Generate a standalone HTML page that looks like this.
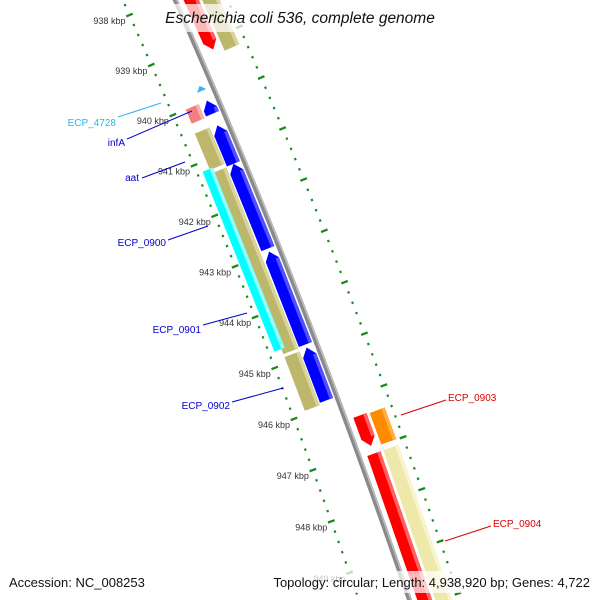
<!DOCTYPE html>
<html><head><meta charset="utf-8"><style>
html,body{margin:0;padding:0;background:#fff;width:600px;height:600px;overflow:hidden;}
svg{display:block;font-family:"Liberation Sans","DejaVu Sans",sans-serif;overflow:hidden;}
</style></head><body>
<svg id="map" width="600" height="600" viewBox="0 0 600 600" xmlns="http://www.w3.org/2000/svg">
<g id="rulers"></g>
<g id="backbone"></g>
<g id="features"></g>
<g id="labels"></g>
<rect x="162" y="4" width="276" height="28" fill="#fff" fill-opacity="0.72"/>
<text x="300" y="23" text-anchor="middle" font-size="15.5" font-style="italic" fill="#111">Escherichia coli 536, complete genome</text>
<rect x="4" y="571" width="140" height="22" fill="#fff" fill-opacity="0.72"/>
<text x="9" y="587" font-size="13" fill="#111">Accession: NC_008253</text>
<rect x="257" y="571" width="338" height="22" fill="#fff" fill-opacity="0.72"/>
<text x="590" y="587" text-anchor="end" font-size="13" fill="#111">Topology: circular; Length: 4,938,920 bp; Genes: 4,722</text>
</svg>
<script>
// ---- data ----
const tickKbp = [936,937,938,939,940,941,942,943,944,945,946,947,948,949,950];
const tickLabels = ["936 kbp","937 kbp","938 kbp","939 kbp","940 kbp","941 kbp","942 kbp","943 kbp","944 kbp","945 kbp","946 kbp","947 kbp","948 kbp","949 kbp","950 kbp"];
const featNames  = ["red-top","khaki-top","red-small","orange","red-long","yellow-long","ecp4728","infA","aat","ecp0900","ecp0901","ecp0902","pink","khaki-1","khaki-2","khaki-3","cyan"];
const featStart  = [936.0, 936.0, 946.36, 946.38, 947.10, 947.10, 939.70, 940.00, 940.49, 941.25, 942.98, 944.86, 940.00, 940.47, 941.26, 944.88, 941.17];
const featEnd    = [939.19, 939.29, 946.95, 946.99, 951.0, 951.0, 939.80, 940.26, 941.25, 942.92, 944.80, 945.89, 940.28, 941.19, 944.82, 945.93, 944.72];
const featStrand = [1, 0, 1, 0, 0, 0, -1, -1, -1, -1, -1, -1, 0, 0, 0, 0, 0];
const featTrack  = [15, 33, 15, 33, 15, 33, -12, -11, -11, -11, -11, -11, -27, -27, -27, -27, -37];
const featWidth  = [14, 16, 14, 16, 14, 16, 10, 14, 14, 14, 14, 14, 14, 16, 16, 16, 11];
const featColor  = ["#ff0000","#bdb76b","#ff0000","#ff8c00","#ff0000","#eee8aa","#3ab4f0","#0000ff","#0000ff","#0000ff","#0000ff","#0000ff","#f08080","#bdb76b","#bdb76b","#bdb76b","#00ffff"];
const featLight  = ["#ff6060","#d8d49a","#ff6060","#ffb040","#ff6060","#f8f4cc","#7fd0ff","#5050ff","#5050ff","#5050ff","#5050ff","#5050ff","#f8b0b0","#d8d49a","#d8d49a","#d8d49a","#90ffff"];

// ---- geometry ----
const CX=-6544, CY=2969, R=7346;
const A0=-23.02, APK=0.428;
function P(r,k){const a=(A0+APK*(k-940))*Math.PI/180;return [CX+r*Math.cos(a),CY+r*Math.sin(a)];}
const NS="http://www.w3.org/2000/svg";
function mk(tag,parent){const e=document.createElementNS(NS,tag);parent.appendChild(e);return e;}
const pts=a=>a.map(p=>p[0].toFixed(2)+","+p[1].toFixed(2)).join(" ");

// backbone
const bb=document.getElementById('backbone');
function arcPath(r,k1,k2){let d="";for(let k=k1;k<=k2+1e-9;k+=0.25){const p=P(r,k);d+=(d?"L":"M")+p[0].toFixed(2)+","+p[1].toFixed(2);}return d;}
const b1=mk('path',bb);


b1.setAttribute('d',arcPath(R,935,951));b1.setAttribute('stroke','#8a8a8a');b1.setAttribute('stroke-width','5');b1.setAttribute('fill','none');
const b2=mk('path',bb);


b2.setAttribute('d',arcPath(R+1.5,935,951));b2.setAttribute('stroke','#bdbdbd');b2.setAttribute('stroke-width','1.5');b2.setAttribute('fill','none');

// rulers
const rg=document.getElementById('rulers');
[-48,48].forEach(off=>{
  for(let i=0;i<=75;i++){
    const k=936+i*0.2;
    const major=(i%5===0);
    const len=major?7:2.2;
    const a=P(R+off-len/2,k), b=P(R+off+len/2,k);
    const t=mk('line',rg);
    
    
    t.setAttribute('x1',a[0]);t.setAttribute('y1',a[1]);t.setAttribute('x2',b[0]);t.setAttribute('y2',b[1]);
    t.setAttribute('stroke','#1a8a1a');t.setAttribute('stroke-width','2.3');
  }
});
tickKbp.forEach((k,i)=>{
  const p=P(R-48,k);
  const t=mk('text',rg);
  
  
  t.setAttribute('x',p[0]-4);t.setAttribute('y',p[1]+9);
  t.setAttribute('text-anchor','end');t.setAttribute('font-size','9');t.setAttribute('fill','#333');
  t.textContent=tickLabels[i];
});

// features
const fg=document.getElementById('features');
const AL=0.16;
featNames.forEach((n,i)=>{
  const r=R+featTrack[i], w=featWidth[i];
  const s=featStart[i], e=featEnd[i], st=featStrand[i];
  const ri=r-w/2, ro=r+w/2;
  function poly(ri,ro){
    let ptsA;
    if(st===1){const kb=Math.max(s,e-AL);ptsA=[P(ri,s),P(ro,s),P(ro,kb),P(r,e),P(ri,kb)];}
    else if(st===-1){const kb=Math.min(e,s+AL);ptsA=[P(r,s),P(ro,kb),P(ro,e),P(ri,e),P(ri,kb)];}
    else ptsA=[P(ri,s),P(ro,s),P(ro,e),P(ri,e)];
    return ptsA;
  }
  const g=mk('g',fg);
  
  
  const p1=mk('polygon',g);
  
  
  p1.setAttribute('points',pts(poly(ri,ro)));p1.setAttribute('fill',featColor[i]);
  if(w>10){
    const hl=[P(ro-3.5,s+(st===-1?AL:0)),P(ro,s+(st===-1?AL:0)),P(ro,e-(st===1?AL:0)),P(ro-3.5,e-(st===1?AL:0))];
    const p2=mk('polygon',g);
    
    
    p2.setAttribute('points',pts(hl));p2.setAttribute('fill',featLight[i]);
  }
});

// labels
const labelText=["ECP_4728","infA","aat","ECP_0900","ECP_0901","ECP_0902","ECP_0903","ECP_0904"];
const labelColor=["#29b6e8","#0000cc","#0000cc","#0000cc","#0000cc","#0000cc","#dd0000","#dd0000"];
const labelTX=[116,125,139,166,201,230,448,493];
const labelTY=[126,146,181,246,333,409,401,527];
const labelAnchor=["end","end","end","end","end","end","start","start"];
const lineX1=[118,127,142,168,203,232,446,491];
const lineY1=[117,139,178,240,325,402,400,526];
const lineX2=[161,192,185,208,247,283,401,445];
const lineY2=[103,111,162,226,313,388,415,541];
const lg=document.getElementById('labels');
labelText.forEach((s,i)=>{
  const l=mk('line',lg);
  
  
  l.setAttribute('x1',lineX1[i]);l.setAttribute('y1',lineY1[i]);l.setAttribute('x2',lineX2[i]);l.setAttribute('y2',lineY2[i]);
  l.setAttribute('stroke',labelColor[i]);l.setAttribute('stroke-width','1');
  const t=mk('text',lg);
  
  
  t.setAttribute('x',labelTX[i]);t.setAttribute('y',labelTY[i]);
  t.setAttribute('text-anchor',labelAnchor[i]);t.setAttribute('font-size','10');t.setAttribute('fill',labelColor[i]);
  t.textContent=s;
});
</script>
</body></html>
